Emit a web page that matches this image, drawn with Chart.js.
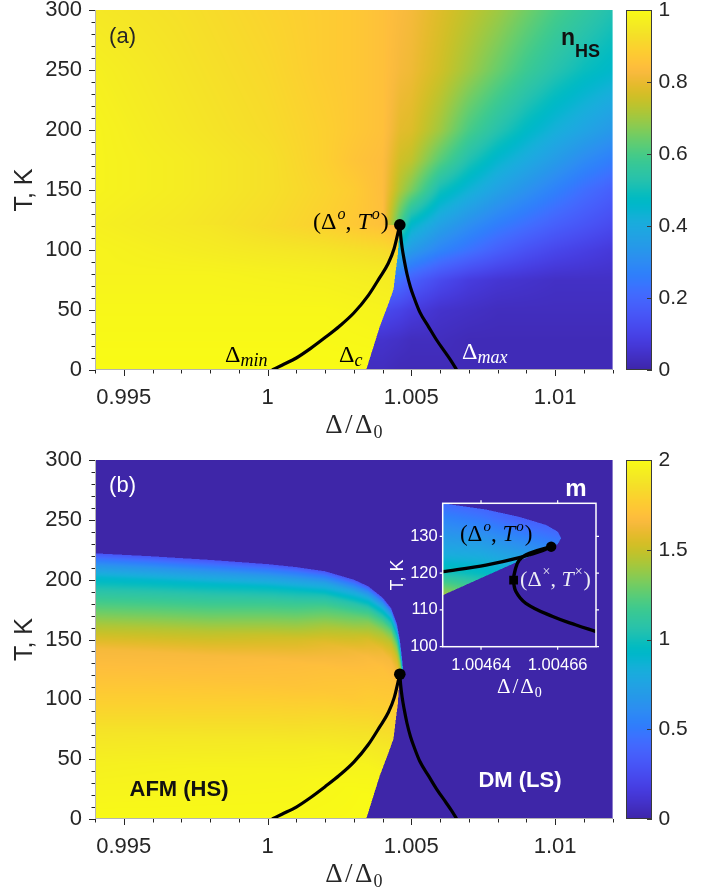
<!DOCTYPE html>
<html><head><meta charset="utf-8">
<script src="https://cdn.jsdelivr.net/npm/chart.js@4.4.1/dist/chart.umd.min.js"></script>
<style>
html,body{margin:0;padding:0;background:#fff;}
#wrap{position:relative;width:726px;height:894px;overflow:hidden;background:#fff;}
canvas{position:absolute;}
#cA{left:0;top:0;} #cB{left:0;top:440px;} #cI{left:380px;top:490px;}
</style></head><body><div id="wrap">
<canvas id="cA" width="726" height="440"></canvas>
<canvas id="cB" width="726" height="454"></canvas>
<canvas id="cI" width="232" height="215"></canvas>
</div>
<script>
// ================= DATA =================
const xTickValues = [0.995, 1, 1.005, 1.01];
const xTickLabels = ['0.995', '1', '1.005', '1.01'];
const tTickValues = [0, 50, 100, 150, 200, 250, 300];
const tTickLabels = ['0', '50', '100', '150', '200', '250', '300'];
const nhsBarTicks = [0, 0.2, 0.4, 0.6, 0.8, 1];
const nhsBarLabels = ['0', '0.2', '0.4', '0.6', '0.8', '1'];
const mBarTicks = [0, 0.5, 1, 1.5, 2];
const mBarLabels = ['0', '0.5', '1', '1.5', '2'];

// phase-boundary curves (same in both panels)
const minBranchX = [1.00016, 1.0005, 1.001, 1.0015, 1.002, 1.0025, 1.003, 1.0035, 1.0039, 1.0042, 1.0044, 1.0046];
const minBranchT = [0, 4, 10, 18, 27, 36.5, 47.5, 62, 77, 89, 101, 121];
const maxBranchX = [1.0046, 1.00463, 1.00468, 1.00475, 1.00485, 1.00497, 1.0051, 1.0053, 1.0056, 1.00588, 1.0062, 1.0064, 1.00658];
const maxBranchT = [121, 112, 102, 92, 80, 69, 60, 48, 36, 25, 14, 7, 0];
const critX = [1.0046];
const critT = [121];
// sharp colour edge (Delta_c line)
const dcX = [1.00343, 1.0039, 1.0042, 1.00438, 1.00446, 1.00453, 1.0046];
const dcT = [0, 36, 55, 67, 83, 96, 121];

// panel (a): n_HS sampled on a grid (outer / high-T phase)
const nhsGridX = [0.994, 0.997, 1.000, 1.002, 1.003, 1.004, 1.0046, 1.005, 1.006, 1.007, 1.008, 1.009, 1.010, 1.011, 1.012];
const nhsGridT = [0, 25, 50, 75, 100, 121, 150, 175, 200, 250, 300];
const nhsGrid = [
  [0.03, 0.03, 0.03, 0.03, 0.03, 0.03, 0.02, 0.02, 0.02, 0.02, 0.02, 0.02, 0.02, 0.02, 0.02],
  [0.05, 0.05, 0.05, 0.05, 0.05, 0.05, 0.04, 0.03, 0.03, 0.02, 0.02, 0.02, 0.02, 0.02, 0.02],
  [0.12, 0.12, 0.12, 0.12, 0.12, 0.12, 0.10, 0.08, 0.05, 0.04, 0.03, 0.03, 0.03, 0.03, 0.03],
  [0.25, 0.25, 0.25, 0.25, 0.25, 0.25, 0.22, 0.18, 0.12, 0.08, 0.06, 0.05, 0.04, 0.04, 0.04],
  [0.45, 0.45, 0.45, 0.45, 0.45, 0.45, 0.42, 0.35, 0.28, 0.23, 0.18, 0.14, 0.11, 0.09, 0.07],
  [0.97, 0.95, 0.92, 0.89, 0.87, 0.85, 0.60, 0.46, 0.37, 0.31, 0.26, 0.22, 0.18, 0.15, 0.12],
  [0.98, 0.96, 0.93, 0.90, 0.88, 0.84, 0.72, 0.66, 0.50, 0.43, 0.37, 0.32, 0.27, 0.22, 0.18],
  [0.98, 0.96, 0.93, 0.89, 0.86, 0.84, 0.76, 0.74, 0.62, 0.52, 0.45, 0.40, 0.35, 0.30, 0.26],
  [0.98, 0.95, 0.92, 0.89, 0.87, 0.85, 0.79, 0.78, 0.70, 0.60, 0.53, 0.47, 0.42, 0.38, 0.34],
  [0.97, 0.94, 0.91, 0.88, 0.87, 0.85, 0.82, 0.81, 0.76, 0.70, 0.64, 0.58, 0.53, 0.49, 0.46],
  [0.95, 0.93, 0.90, 0.88, 0.87, 0.85, 0.83, 0.82, 0.78, 0.74, 0.70, 0.65, 0.60, 0.56, 0.52]
];
// panel (a): n_HS of the low-T high-spin phase (left of Delta_c)
const nhsLowX = [0.994, 0.998, 1.002, 1.004, 1.0047];
const nhsLowT = [0, 50, 80, 100, 121];
const nhsLow = [
  [1.00, 1.00, 1.00, 1.00, 1.00],
  [0.99, 0.99, 0.99, 0.98, 0.98],
  [0.98, 0.98, 0.97, 0.96, 0.95],
  [0.98, 0.96, 0.94, 0.92, 0.90],
  [0.97, 0.945, 0.89, 0.85, 0.82]
];

// panel (b): AFM dome, upper edge and m sampled vs depth below the edge
const domeEdgeX = [0.994, 0.996, 0.998, 1.000, 1.001, 1.002, 1.003, 1.0035, 1.004, 1.0043, 1.0045, 1.0046, 1.00466, 1.0047];
const domeEdgeT = [222, 219.5, 216.5, 213, 210.5, 207, 200, 194.5, 185, 176, 163, 150, 138, 129];
const domeNose = [1.00471, 124];
const mGridX = [0.994, 0.998, 1.001, 1.003, 1.004, 1.0045, 1.0047];
const mGridDepth = [0, 4, 10, 20, 30, 45, 60, 80, 100, 125, 150, 175, 230];
const mGrid = [
  [0.30, 0.30, 0.30, 0.30, 0.30, 0.30, 0.30],
  [0.45, 0.45, 0.48, 0.52, 0.60, 0.70, 0.75],
  [0.65, 0.66, 0.70, 0.78, 0.88, 1.00, 1.10],
  [0.90, 0.92, 0.97, 1.06, 1.20, 1.35, 1.45],
  [1.05, 1.08, 1.14, 1.26, 1.42, 1.55, 1.62],
  [1.24, 1.27, 1.34, 1.48, 1.62, 1.68, 1.70],
  [1.43, 1.46, 1.53, 1.63, 1.70, 1.72, 1.74],
  [1.64, 1.65, 1.68, 1.71, 1.74, 1.77, 1.80],
  [1.70, 1.71, 1.72, 1.75, 1.80, 1.85, 1.88],
  [1.78, 1.80, 1.82, 1.86, 1.90, 1.95, 1.96],
  [1.88, 1.90, 1.92, 1.95, 1.97, 2.00, 2.00],
  [1.94, 1.96, 1.97, 1.99, 2.00, 2.00, 2.00],
  [2.00, 2.00, 2.00, 2.00, 2.00, 2.00, 2.00]
];

// inset
const insetXTicks = [1.00464, 1.00466];
const insetXLabels = ['1.00464', '1.00466'];
const insetTTicks = [100, 110, 120, 130];
const insetTLabels = ['100', '110', '120', '130'];
const insetTopX = [1.00463, 1.0046413, 1.00465, 1.004657, 1.00466, 1.0046609, 1.00466, 1.0046583];
const insetTopT = [139, 137.3, 135.3, 133.1, 131.3, 129.5, 127.9, 127.2];
const insetLowX = [1.0046583, 1.00463];
const insetLowT = [127.2, 114];
const insetGridX = [1.00463, 1.00464, 1.00465, 1.00466, 1.00467];
const insetGridT = [110, 115, 120, 125, 130, 135, 140];
const insetGrid = [
  [1.60, 1.40, 1.15, 0.90, 0.80],
  [1.36, 1.20, 1.02, 0.85, 0.75],
  [1.02, 0.96, 0.88, 0.78, 0.70],
  [0.82, 0.80, 0.72, 0.62, 0.55],
  [0.68, 0.65, 0.55, 0.45, 0.40],
  [0.55, 0.48, 0.36, 0.30, 0.30],
  [0.38, 0.32, 0.30, 0.30, 0.30]
];
const insetUpperX = [1.00463, 1.0046413, 1.00465, 1.004656, 1.0046583];
const insetUpperT = [120.4, 122.2, 124.2, 126.1, 127.2];
const insetLowerX = [1.0046583, 1.0046526, 1.00465, 1.0046489, 1.0046485, 1.0046491, 1.0046517, 1.0046587, 1.0046648, 1.00467];
const insetLowerT = [127.2, 125.4, 123.6, 120.8, 118.1, 115.0, 111.8, 108.2, 105.9, 104.1];
const insetCritX = [1.0046583], insetCritT = [127.2];
const insetCrossX = [1.0046485], insetCrossT = [118.1];

// ================= COLORMAP (MATLAB parula) =================
const parulaRGB = [
[0.2422,0.1504,0.6603],[0.2504,0.1650,0.7076],[0.2578,0.1818,0.7511],[0.2647,0.1978,0.7952],
[0.2706,0.2147,0.8364],[0.2751,0.2342,0.8710],[0.2783,0.2559,0.8991],[0.2803,0.2782,0.9221],
[0.2813,0.3006,0.9414],[0.2810,0.3228,0.9579],[0.2795,0.3447,0.9717],[0.2760,0.3667,0.9829],
[0.2699,0.3892,0.9906],[0.2602,0.4123,0.9952],[0.2440,0.4358,0.9988],[0.2206,0.4603,0.9973],
[0.1963,0.4847,0.9892],[0.1834,0.5074,0.9798],[0.1786,0.5289,0.9682],[0.1764,0.5499,0.9520],
[0.1687,0.5703,0.9359],[0.1540,0.5902,0.9218],[0.1460,0.6091,0.9079],[0.1380,0.6276,0.8973],
[0.1248,0.6459,0.8883],[0.1113,0.6635,0.8763],[0.0952,0.6798,0.8598],[0.0689,0.6948,0.8394],
[0.0297,0.7082,0.8163],[0.0036,0.7203,0.7917],[0.0067,0.7312,0.7660],[0.0433,0.7411,0.7394],
[0.0964,0.7500,0.7120],[0.1408,0.7584,0.6842],[0.1717,0.7670,0.6554],[0.1938,0.7758,0.6251],
[0.2161,0.7843,0.5923],[0.2470,0.7918,0.5567],[0.2906,0.7973,0.5188],[0.3406,0.8008,0.4789],
[0.3909,0.8029,0.4354],[0.4456,0.8024,0.3909],[0.5044,0.7993,0.3480],[0.5616,0.7942,0.3045],
[0.6174,0.7876,0.2612],[0.6720,0.7793,0.2227],[0.7242,0.7698,0.1910],[0.7738,0.7598,0.1646],
[0.8203,0.7498,0.1535],[0.8634,0.7406,0.1596],[0.9035,0.7330,0.1774],[0.9393,0.7288,0.2100],
[0.9728,0.7298,0.2394],[0.9956,0.7434,0.2371],[0.9970,0.7659,0.2199],[0.9952,0.7893,0.2028],
[0.9892,0.8136,0.1885],[0.9786,0.8386,0.1766],[0.9676,0.8639,0.1643],[0.9610,0.8890,0.1537],
[0.9597,0.9135,0.1423],[0.9628,0.9373,0.1265],[0.9691,0.9606,0.1064],[0.9769,0.9839,0.0805]];
function parula(v) {
  v = Math.max(0, Math.min(1, v));
  const f = v * 63, i = Math.min(62, Math.floor(f)), t = f - i;
  const a = parulaRGB[i], b = parulaRGB[i + 1];
  return [255 * (a[0] + (b[0] - a[0]) * t), 255 * (a[1] + (b[1] - a[1]) * t), 255 * (a[2] + (b[2] - a[2]) * t)];
}
function parulaCss(v) { const c = parula(v); return `rgb(${c[0]|0},${c[1]|0},${c[2]|0})`; }

// ================= helpers =================
function locate(arr, v) {
  const n = arr.length;
  if (v <= arr[0]) return [0, 0];
  if (v >= arr[n - 1]) return [n - 2, 1];
  let i = 0; while (v > arr[i + 1]) i++;
  return [i, (v - arr[i]) / (arr[i + 1] - arr[i])];
}
function interp1(xs, ys, x) { const [i, t] = locate(xs, x); return ys[i] * (1 - t) + ys[i + 1] * t; }
function bilinear(gx, gt, g, x, T) {
  const [i, u] = locate(gx, x), [j, v] = locate(gt, T);
  return (g[j][i] * (1 - u) + g[j][i + 1] * u) * (1 - v) + (g[j + 1][i] * (1 - u) + g[j + 1][i + 1] * u) * v;
}
function inPoly(poly, x, y) {
  let inside = false;
  for (let i = 0, j = poly.length - 1; i < poly.length; j = i++) {
    const xi = poly[i][0], yi = poly[i][1], xj = poly[j][0], yj = poly[j][1];
    if (((yi > y) !== (yj > y)) && (x < (xj - xi) * (y - yi) / (yj - yi) + xi)) inside = !inside;
  }
  return inside;
}
const pts = (xs, ts) => xs.map((x, i) => ({x: x, y: ts[i]}));

// field functions
function nhsAt(x, T) {
  if (T <= dcT[dcT.length - 1] && x < interp1(dcT, dcX, T)) return bilinear(nhsLowX, nhsLowT, nhsLow, x, T);
  return bilinear(nhsGridX, nhsGridT, nhsGrid, x, T);
}
const domePoly = [[0.99, domeEdgeT[0]]]
  .concat(domeEdgeX.map((x, i) => [x, domeEdgeT[i]]))
  .concat([domeNose])
  .concat(dcX.map((x, i) => [x, dcT[i]]).reverse())
  .concat([[dcX[0], -10], [0.99, -10]]);
function mAt(x, T) {
  if (!inPoly(domePoly, x, T)) return 0;
  const d = interp1(domeEdgeX, domeEdgeT, x) - T;
  return bilinear(mGridX, mGridDepth, mGrid, x, d);
}
const insetPoly = [[1.00462, 140.7]]
  .concat(insetTopX.map((x, i) => [x, insetTopT[i]]))
  .concat([[insetLowX[1], insetLowT[1]], [1.00462, 109.3]]);
function insetAt(x, T) {
  if (!inPoly(insetPoly, x, T)) return 0;
  return bilinear(insetGridX, insetGridT, insetGrid, x, T);
}

function paintField(chart, fn, vmax) {
  const ca = chart.chartArea, ctx = chart.ctx;
  const xs = chart.scales.x, ys = chart.scales.y;
  const x0 = Math.floor(ca.left), y0 = Math.floor(ca.top);
  const w = Math.ceil(ca.right) - x0, h = Math.ceil(ca.bottom) - y0;
  const off = document.createElement('canvas'); off.width = w; off.height = h;
  const octx = off.getContext('2d'); const img = octx.createImageData(w, h); const d = img.data;
  const sub = [0.25, 0.75];
  const sxv = [];
  for (let i = 0; i < w; i++) sxv.push(sub.map(s => xs.getValueForPixel(x0 + i + s)));
  for (let j = 0; j < h; j++) {
    const Ts = sub.map(s => ys.getValueForPixel(y0 + j + s));
    for (let i = 0; i < w; i++) {
      let r = 0, g = 0, b = 0;
      for (const x of sxv[i]) for (const T of Ts) { const c = parula(fn(x, T) / vmax); r += c[0]; g += c[1]; b += c[2]; }
      const k = (j * w + i) * 4; d[k] = r / 4; d[k + 1] = g / 4; d[k + 2] = b / 4; d[k + 3] = 255;
    }
  }
  octx.putImageData(img, 0, 0);
  ctx.save(); ctx.beginPath(); ctx.rect(ca.left, ca.top, ca.right - ca.left, ca.bottom - ca.top); ctx.clip();
  ctx.drawImage(off, x0, y0); ctx.restore();
}

function drawRuns(ctx, runs, x, y, color, align) {
  ctx.save(); ctx.fillStyle = color; ctx.textBaseline = 'alphabetic'; ctx.textAlign = 'left';
  let total = 0;
  for (const r of runs) { ctx.font = r[1]; total += ctx.measureText(r[0]).width + (r[3] || 0); }
  let cx = align === 'center' ? x - total / 2 : x;
  for (const r of runs) { ctx.font = r[1]; cx += (r[3] || 0); ctx.fillText(r[0], cx, y + (r[2] || 0)); cx += ctx.measureText(r[0]).width; }
  ctx.restore();
}
const SER = '"Liberation Serif", "Times New Roman", serif';
const SANS = '"Liberation Sans", Arial, sans-serif';
const INK = '#262626';

function decorMain(chart) {
  const ctx = chart.ctx, ca = chart.chartArea, xs = chart.scales.x, ys = chart.scales.y;
  ctx.save();
  ctx.strokeStyle = '#b4b4b4'; ctx.lineWidth = 1;
  ctx.beginPath(); ctx.moveTo(ca.left + 0.5, ca.top); ctx.lineTo(ca.left + 0.5, ca.bottom);
  ctx.moveTo(ca.left, ca.bottom - 0.5); ctx.lineTo(ca.right, ca.bottom - 0.5); ctx.stroke();
  ctx.strokeStyle = INK; ctx.beginPath();
  for (let k = 0; k <= 30; k++) {
    const T = k * 10, y = Math.round(ys.getPixelForValue(T)) + 0.5, len = (T % 50 === 0) ? 6 : 3.5;
    ctx.moveTo(ca.left - len, y); ctx.lineTo(ca.left, y);
  }
  for (let k = 0; k <= 18; k++) {
    const xv = 0.994 + k * 0.001, x = Math.round(xs.getPixelForValue(xv)) + 0.5;
    const major = xTickValues.some(v => Math.abs(v - xv) < 1e-7), len = major ? 6 : 3.5;
    ctx.moveTo(x, ca.bottom); ctx.lineTo(x, ca.bottom + len);
  }
  ctx.stroke();
  // x axis title
  const cxp = (ca.left + ca.right) / 2;
  drawRuns(ctx, [['Δ', '27px ' + SER], ['/', '27px ' + SER, 0, 2.5], ['Δ', '27px ' + SER, 0, 2.5], ['0', '18px ' + SER, 5, 1]], cxp, ca.bottom + 63, INK, 'center');
  // colorbar
  const cb = chart.scales.cb;
  const top = cb.getPixelForValue(cb.max), bot = cb.getPixelForValue(cb.min);
  const bx = cb.left + 13.4, bw = 26;
  for (let y = Math.floor(top); y < Math.ceil(bot); y++) {
    const v = cb.getValueForPixel(y + 0.5) / cb.max;
    ctx.fillStyle = parulaCss(v); ctx.fillRect(bx, Math.max(y, top), bw, 1);
  }
  ctx.strokeStyle = '#3a3a3a'; ctx.lineWidth = 1;
  ctx.strokeRect(bx + 0.5, top + 0.5, bw - 1, bot - top - 1);
  ctx.beginPath();
  for (const t of cb.ticks) { const y = Math.round(cb.getPixelForValue(t.value)) + 0.5; ctx.moveTo(bx + bw - 5, y); ctx.lineTo(bx + bw, y); }
  ctx.stroke();
  ctx.restore();
}

function baseOptions(cfg) {
  return {
    responsive: false, animation: false, devicePixelRatio: 1,
    layout: {padding: {top: cfg.top, left: 0, right: 0, bottom: 0}},
    plugins: {legend: {display: false}, tooltip: {enabled: false}},
    scales: {
      x: {type: 'linear', min: 0.994, max: 1.012,
        afterFit(s) { s.height = cfg.xh; s.paddingLeft = 0; s.paddingRight = 0; },
        afterBuildTicks(s) { s.ticks = xTickValues.map(v => ({value: v})); },
        ticks: {callback: (v, i) => xTickLabels[i], font: {size: 22, family: SANS}, color: INK, padding: 15, maxRotation: 0, autoSkip: false},
        grid: {display: false, drawTicks: false}, border: {display: false}},
      y: {type: 'linear', min: 0, max: 300,
        afterFit(s) { s.width = 95; s.paddingTop = 0; s.paddingBottom = 0; },
        afterBuildTicks(s) { s.ticks = tTickValues.map(v => ({value: v})); },
        ticks: {callback: (v, i) => tTickLabels[i], font: {size: 22, family: SANS}, color: INK, padding: 13, autoSkip: false},
        grid: {display: false, drawTicks: false}, border: {display: false},
        title: {display: true, text: 'T, K', font: {size: 25, family: SANS}, color: INK, padding: {top: 10, bottom: 0}}},
      cb: {type: 'linear', position: 'right', min: 0, max: cfg.cbMax,
        afterFit(s) { s.width = 113.4; s.paddingTop = 0; s.paddingBottom = 0; },
        afterBuildTicks(s) { s.ticks = cfg.cbTicks.map(v => ({value: v})); },
        ticks: {callback: (v, i) => cfg.cbLabels[i], font: {size: 21, family: SANS}, color: INK, padding: 46, autoSkip: false},
        grid: {display: false, drawTicks: false}, border: {display: false}}
    }
  };
}
function curveSets() {
  return [
    {data: pts(minBranchX, minBranchT), borderColor: '#000', borderWidth: 3.2, pointRadius: 0, cubicInterpolationMode: 'monotone', fill: false},
    {data: pts(maxBranchX, maxBranchT), borderColor: '#000', borderWidth: 3.2, pointRadius: 0, cubicInterpolationMode: 'monotone', fill: false},
    {data: pts(critX, critT), showLine: false, pointRadius: 5.8, pointBackgroundColor: '#000', pointBorderWidth: 0}
  ];
}
const at = (ch, x, y) => [ch.scales.x.getPixelForValue(x), ch.scales.y.getPixelForValue(y)];

// ================= PANEL (a) =================
new Chart(document.getElementById('cA'), {
  type: 'line',
  data: {datasets: curveSets()},
  options: baseOptions({top: 10, xh: 70, cbMax: 1, cbTicks: nhsBarTicks, cbLabels: nhsBarLabels}),
  plugins: [{
    id: 'panelA',
    beforeDatasetsDraw(ch) { paintField(ch, nhsAt, 1); },
    afterDatasetsDraw(ch) {
      decorMain(ch);
      const ctx = ch.ctx;
      let p = at(ch, 0.99449, 277.5);
      ctx.save(); ctx.font = '22px ' + SANS; ctx.fillStyle = INK; ctx.textBaseline = 'middle'; ctx.fillText('(a)', p[0], p[1]); ctx.restore();
      p = at(ch, 1.010206, 270.8);
      drawRuns(ctx, [['n', 'bold 23px ' + SANS], ['HS', 'bold 18px ' + SANS, 12]], p[0], p[1], '#111');
      p = at(ch, 1.00158, 117.5);
      drawRuns(ctx, [['(', '24px ' + SER], ['Δ', '24px ' + SER], ['o', 'italic 16px ' + SER, -10, 1], [', ', '24px ' + SER], ['T', 'italic 24px ' + SER], ['o', 'italic 16px ' + SER, -10, 1], [')', '24px ' + SER, 0, 1]], p[0], p[1], '#000');
      p = at(ch, 0.99852, 6.9);
      drawRuns(ctx, [['Δ', '24px ' + SER], ['min', 'italic 18px ' + SER, 4]], p[0], p[1], '#000');
      p = at(ch, 1.002485, 6.9);
      drawRuns(ctx, [['Δ', '24px ' + SER], ['c', 'italic 18px ' + SER, 4]], p[0], p[1], '#000');
      p = at(ch, 1.006763, 8.9);
      drawRuns(ctx, [['Δ', '24px ' + SER], ['max', 'italic 18px ' + SER, 4]], p[0], p[1], '#fff');
    }
  }]
});

// ================= PANEL (b) =================
new Chart(document.getElementById('cB'), {
  type: 'line',
  data: {datasets: curveSets()},
  options: baseOptions({top: 20, xh: 75, cbMax: 2, cbTicks: mBarTicks, cbLabels: mBarLabels}),
  plugins: [{
    id: 'panelB',
    beforeDatasetsDraw(ch) { paintField(ch, mAt, 2); },
    afterDatasetsDraw(ch) {
      decorMain(ch);
      const ctx = ch.ctx;
      ctx.save(); ctx.textBaseline = 'middle';
      let p = at(ch, 0.99449, 278.3);
      ctx.font = '22px ' + SANS; ctx.fillStyle = '#fff'; ctx.fillText('(b)', p[0], p[1]);
      ctx.textAlign = 'center';
      p = at(ch, 1.010727, 275.8);
      ctx.font = 'bold 24px ' + SANS; ctx.fillStyle = '#fff'; ctx.fillText('m', p[0], p[1]);
      p = at(ch, 0.996921, 24.2);
      ctx.font = 'bold 22px ' + SANS; ctx.fillStyle = '#111'; ctx.fillText('AFM (HS)', p[0], p[1]);
      p = at(ch, 1.00878, 31.8);
      ctx.fillStyle = '#fff'; ctx.fillText('DM (LS)', p[0], p[1]);
      ctx.restore();
    }
  }]
});

// ================= INSET =================
new Chart(document.getElementById('cI'), {
  type: 'line',
  data: {datasets: [
    {data: pts(insetUpperX, insetUpperT), borderColor: '#000', borderWidth: 3.4, pointRadius: 0, cubicInterpolationMode: 'monotone', fill: false},
    {data: pts(insetLowerX, insetLowerT), borderColor: '#000', borderWidth: 3.4, pointRadius: 0, tension: 0.4, fill: false},
    {data: pts(insetCritX, insetCritT), showLine: false, pointRadius: 5.2, pointBackgroundColor: '#000', pointBorderWidth: 0},
    {data: pts(insetCrossX, insetCrossT), showLine: false, pointStyle: 'rect', pointRadius: 6.2, pointBackgroundColor: '#000', pointBorderWidth: 0}
  ]},
  options: {
    responsive: false, animation: false, devicePixelRatio: 1,
    layout: {padding: {top: 13.3, left: 0, right: 16, bottom: 0}},
    plugins: {legend: {display: false}, tooltip: {enabled: false}},
    scales: {
      x: {type: 'linear', min: 1.00463, max: 1.00467,
        afterFit(s) { s.height = 58.3; s.paddingLeft = 0; s.paddingRight = 0; },
        afterBuildTicks(s) { s.ticks = insetXTicks.map(v => ({value: v})); },
        ticks: {callback: (v, i) => insetXLabels[i], font: {size: 16.5, family: SANS}, color: '#fff', padding: 9, maxRotation: 0, autoSkip: false},
        grid: {display: false, drawTicks: false}, border: {display: false}},
      y: {type: 'linear', min: 100, max: 139,
        afterFit(s) { s.width = 62.7; s.paddingTop = 0; s.paddingBottom = 0; },
        afterBuildTicks(s) { s.ticks = insetTTicks.map(v => ({value: v})); },
        ticks: {callback: (v, i) => insetTLabels[i], font: {size: 16.5, family: SANS}, color: '#fff', padding: 5, autoSkip: false},
        grid: {display: false, drawTicks: false}, border: {display: false},
        title: {display: true, text: 'T, K', font: {size: 18, family: SANS}, color: '#fff', padding: {top: 7.5, bottom: 0}}}
    }
  },
  plugins: [{
    id: 'inset',
    beforeDatasetsDraw(ch) { paintField(ch, insetAt, 2); },
    afterDatasetsDraw(ch) {
      const ctx = ch.ctx, ca = ch.chartArea, xs = ch.scales.x, ys = ch.scales.y;
      ctx.save();
      ctx.strokeStyle = '#fff'; ctx.lineWidth = 1.5;
      ctx.strokeRect(ca.left, ca.top, ca.right - ca.left, ca.bottom - ca.top);
      ctx.lineWidth = 1.2; ctx.beginPath();
      for (const v of insetXTicks) { const x = xs.getPixelForValue(v); ctx.moveTo(x, ca.bottom); ctx.lineTo(x, ca.bottom + 3); ctx.moveTo(x, ca.top); ctx.lineTo(x, ca.top - 3); }
      for (const v of insetTTicks) { const y = ys.getPixelForValue(v); ctx.moveTo(ca.left, y); ctx.lineTo(ca.left - 3, y); ctx.moveTo(ca.right, y); ctx.lineTo(ca.right + 3, y); }
      ctx.stroke(); ctx.restore();
      drawRuns(ctx, [['Δ', '21px ' + SER], ['/', '21px ' + SER, 0, 2], ['Δ', '21px ' + SER, 0, 2], ['0', '14px ' + SER, 4, 1]], (ca.left + ca.right) / 2, ca.bottom + 46, '#fff', 'center');
      let p = at(ch, 1.0046345, 128.7);
      drawRuns(ctx, [['(', '23px ' + SER], ['Δ', '23px ' + SER], ['o', 'italic 15px ' + SER, -10, 1], [', ', '23px ' + SER], ['T', 'italic 23px ' + SER], ['o', 'italic 15px ' + SER, -10, 1], [')', '23px ' + SER, 0, 1]], p[0], p[1], '#000');
      p = at(ch, 1.0046502, 116.5);
      drawRuns(ctx, [['(', '22px ' + SER], ['Δ', '22px ' + SER], ['×', '14px ' + SER, -10, 1], [', ', '22px ' + SER], ['T', 'italic 22px ' + SER], ['×', '14px ' + SER, -10, 1], [')', '22px ' + SER, 0, 1]], p[0], p[1], '#ececf4');
    }
  }]
});
</script>
</body></html>
